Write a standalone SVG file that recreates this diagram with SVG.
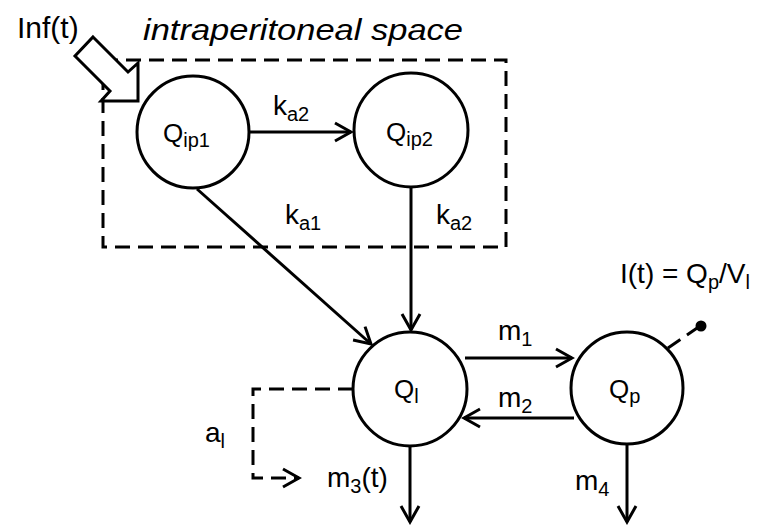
<svg xmlns="http://www.w3.org/2000/svg" width="760" height="526" viewBox="0 0 760 526">
<defs>
<style>
text{font-family:"Liberation Sans",Arial,sans-serif;fill:#000}
.lbl{font-size:28px}
.q{font-size:26px}
.sub{font-size:20px}
.node{fill:#fff;stroke:#000;stroke-width:3}
.edge{fill:none;stroke:#000;stroke-width:3}
.dash{fill:none;stroke:#000;stroke-width:3;stroke-dasharray:15 8}
</style>
<marker id="ah" viewBox="0 0 24 24" refX="21" refY="12" markerWidth="24" markerHeight="24" markerUnits="userSpaceOnUse" orient="auto">
<polyline points="5,3 21,12 5,21" fill="none" stroke="#000" stroke-width="3"/>
</marker>
</defs>
<rect width="760" height="526" fill="#fff"/>
<g id="space">
<rect x="103" y="60" width="403" height="187" class="dash"/>
<text x="143" y="40" textLength="320" lengthAdjust="spacingAndGlyphs" style="font-size:30px;font-style:italic">intraperitoneal space</text>
</g>
<g id="inf">
<text x="17" y="38" style="font-size:30px">Inf(t)</text>
<polygon points="93,37 128,72 138,63 138,101 101,101 110,91 75,56" fill="#fff" stroke="#000" stroke-width="3" stroke-linejoin="miter"/>
</g>
<g id="connectors">
<line x1="250" y1="132" x2="351" y2="132" class="edge" marker-end="url(#ah)"/>
<line x1="197" y1="189" x2="371" y2="344" class="edge" marker-end="url(#ah)"/>
<line x1="411" y1="187" x2="411" y2="330" class="edge" marker-end="url(#ah)"/>
<line x1="465" y1="358" x2="572" y2="358" class="edge" marker-end="url(#ah)"/>
<line x1="574" y1="418" x2="464" y2="418" class="edge" marker-end="url(#ah)"/>
<line x1="410" y1="446" x2="410" y2="522" class="edge" marker-end="url(#ah)"/>
<line x1="627" y1="444" x2="627" y2="522" class="edge" marker-end="url(#ah)"/>
<polyline points="353,389 253,389 253,478 299,478" class="dash" stroke-dasharray="9 5" marker-end="url(#ah)"/>
<line x1="668" y1="348" x2="700" y2="326" class="dash" stroke-dasharray="8 5"/>
<circle cx="701" cy="326" r="5.5" fill="#000"/>
</g>
<g id="Qip1">
<circle cx="193" cy="132" r="56" class="node"/>
<text x="163" y="142" class="q">Q<tspan class="sub" dy="5">ip1</tspan></text>
</g>
<g id="Qip2">
<circle cx="411" cy="130" r="57" class="node"/>
<text x="386" y="141" class="q">Q<tspan class="sub" dy="5">ip2</tspan></text>
</g>
<g id="Ql">
<circle cx="410" cy="389" r="57" class="node"/>
<text x="394" y="398" class="q">Q<tspan class="sub" dy="5">l</tspan></text>
</g>
<g id="Qp">
<circle cx="627" cy="388" r="56" class="node"/>
<text x="609" y="398" class="q">Q<tspan class="sub" dy="5">p</tspan></text>
</g>
<g id="labels">
<text x="273" y="115" class="lbl">k<tspan class="sub" dy="6">a2</tspan></text>
<text x="285" y="224" class="lbl">k<tspan class="sub" dy="6">a1</tspan></text>
<text x="436" y="224" class="lbl">k<tspan class="sub" dy="6">a2</tspan></text>
<text x="498" y="340" class="lbl">m<tspan class="sub" dy="6">1</tspan></text>
<text x="498" y="407" class="lbl">m<tspan class="sub" dy="6">2</tspan></text>
<text x="575" y="490" class="lbl">m<tspan class="sub" dy="6">4</tspan></text>
<text x="327" y="487" class="lbl">m<tspan class="sub" dy="6">3</tspan><tspan dy="-6">(t)</tspan></text>
<text x="205" y="442" class="lbl">a<tspan class="sub" dy="6">l</tspan></text>
<text x="620" y="283" class="lbl">I(t) = Q<tspan class="sub" dy="6">p</tspan><tspan dy="-6">/V</tspan><tspan class="sub" dy="6">l</tspan></text>
</g>
</svg>
